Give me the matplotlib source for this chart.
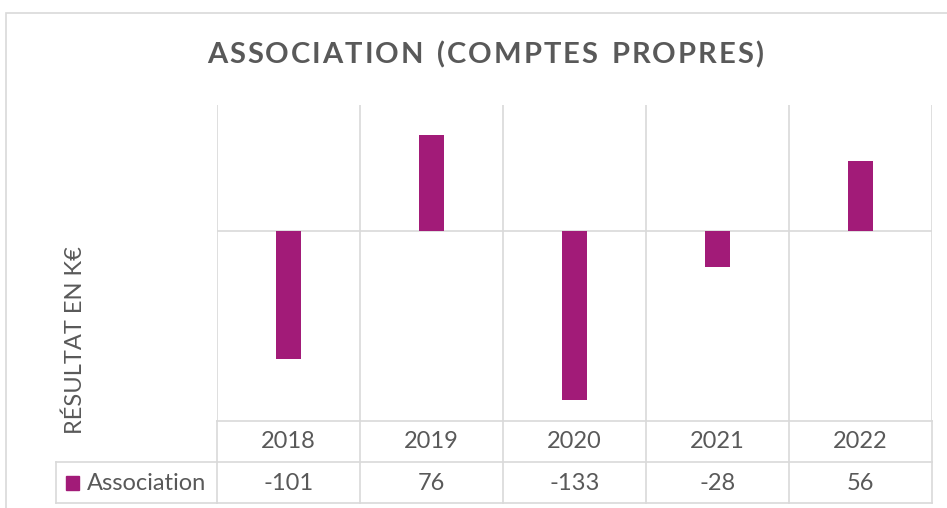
import matplotlib
matplotlib.use("Agg")
import matplotlib.pyplot as plt
from matplotlib.patches import Rectangle
from matplotlib.lines import Line2D
import matplotlib.transforms as mtrans

years = ["2018", "2019", "2020", "2021", "2022"]
values = [-101, 76, -133, -28, 56]
series_name = "Association"
title = "ASSOCIATION (COMPTES PROPRES)"
ylabel = "RÉSULTAT EN K€"

W, H = 947, 508
fig = plt.figure(figsize=(W / 100, H / 100), dpi=100)
plt.rcParams['font.family'] = ['Lato', 'DejaVu Sans']

BAR = '#A21B78'
GRID = '#D9D9D9'
TXT = '#595959'

def fx(px):
    return px / W

def fy(py):
    return 1 - py / H

# outer chart border
fig.patches.append(Rectangle((fx(6), fy(520)), fx(960) - fx(6), fy(13) - fy(520),
                             transform=fig.transFigure, fill=False, edgecolor=GRID, lw=1.2))

left, right, top, bottom = 217, 932, 105, 421
ax = fig.add_axes([fx(left), fy(bottom), fx(right) - fx(left), fy(top) - fy(bottom)])
x = list(range(len(years)))
ax.bar(x, values, width=0.18, color=BAR, zorder=3)
ax.set_xlim(-0.5, len(years) - 0.5)
ax.set_ylim(-150, 100)
for s in ax.spines.values():
    s.set_visible(False)
ax.set_xticks([])
ax.set_yticks([])
ax.axhline(0, color=GRID, lw=1.2, zorder=2)
for i in range(len(years) + 1):
    ax.axvline(i - 0.5, color=GRID, lw=1.2, zorder=1)

# data table
tr = mtrans.blended_transform_factory(ax.transData, fig.transFigure)
def hline(y, x0, x1, transform):
    fig.lines.append(Line2D([x0, x1], [y, y], transform=transform, color=GRID, lw=1.2))

hline(fy(421), -0.5, len(years) - 0.5, tr)
hline(fy(462), -0.5, len(years) - 0.5, tr)
hline(fy(503), -0.5, len(years) - 0.5, tr)
hline(fy(462), fx(56), fx(217), fig.transFigure)
hline(fy(503), fx(56), fx(217), fig.transFigure)
for i in range(len(years) + 1):
    fig.lines.append(Line2D([i - 0.5, i - 0.5], [fy(421), fy(503)], transform=tr, color=GRID, lw=1.2))
fig.lines.append(Line2D([fx(56), fx(56)], [fy(462), fy(503)], transform=fig.transFigure, color=GRID, lw=1.2))

FS = 17
for i, (yr, v) in enumerate(zip(years, values)):
    fig.text(i, fy(441), yr, transform=tr, ha='center', va='center', fontsize=FS, color=TXT)
    fig.text(i, fy(483), f"{v}", transform=tr, ha='center', va='center', fontsize=FS, color=TXT)

fig.patches.append(Rectangle((fx(66), fy(490)), fx(79) - fx(66), fy(476) - fy(490),
                             transform=fig.transFigure, color=BAR))
fig.text(fx(87), fy(483), series_name, ha='left', va='center', fontsize=FS, color=TXT)

# title with letter spacing
renderer = fig.canvas.get_renderer()
tfs = 21
spacing = 2.0  # px between letters
widths = []
for ch in title:
    t = fig.text(0, 0, ch if ch != ' ' else 'n', fontsize=tfs, fontweight='bold')
    w = t.get_window_extent(renderer).width
    if ch == ' ':
        w *= 0.6
    widths.append(w)
    t.remove()
total = sum(widths) + spacing * (len(title) - 1)
start = 485 - total / 2
pos = start
for ch, w in zip(title, widths):
    if ch != ' ':
        fig.text(fx(pos), fy(55), ch, ha='left', va='center', fontsize=tfs,
                 fontweight='bold', color=TXT)
    pos += w + spacing

fig.text(fx(75), fy(340), ylabel, ha='center', va='center', rotation=90, fontsize=17, color=TXT)

fig.savefig("out.png", dpi=100)
